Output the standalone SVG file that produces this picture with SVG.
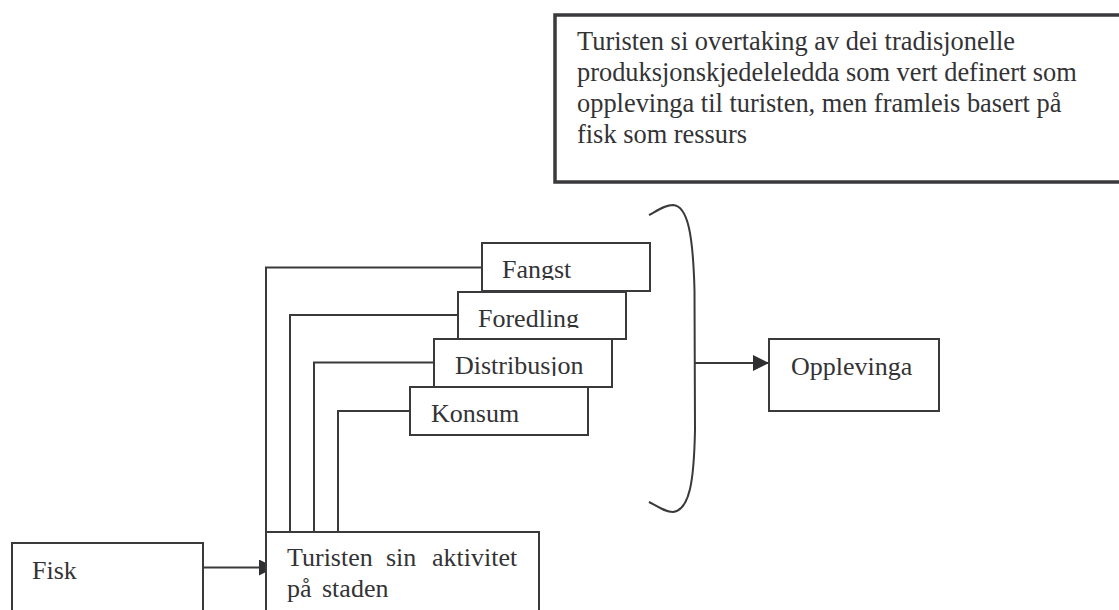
<svg xmlns="http://www.w3.org/2000/svg" width="1119" height="610" viewBox="0 0 1119 610">
<style>
  .box{fill:#fff;stroke:#3a3a3c;stroke-width:2}
  .thick{fill:#fff;stroke:#3a3a3c;stroke-width:3.5}
  .t{font-family:"Liberation Serif","Times New Roman",serif;font-size:26px;fill:#333335}
  .big{font-size:26.4px}
  .ln{fill:none;stroke:#3a3a3c;stroke-width:2}
</style>
<defs>
  <marker id="ah" viewBox="0 0 10 10" refX="10" refY="5" markerWidth="8" markerHeight="8" markerUnits="strokeWidth" orient="auto">
    <path d="M0,0 L10,5 L0,10 Z" fill="#2f2f31"/>
  </marker>
  <clipPath id="cF"><rect x="482" y="243" width="168" height="37"/></clipPath>
  <clipPath id="cFo"><rect x="458" y="292" width="168" height="36"/></clipPath>
  <clipPath id="cD"><rect x="434" y="339" width="178" height="37"/></clipPath>
  <clipPath id="cK"><rect x="410" y="387" width="178" height="37"/></clipPath>
</defs>
<rect width="1119" height="610" fill="#fff"/>

<g id="note">
  <rect class="thick" x="555" y="15" width="580" height="167"/>
  <text class="t big" x="577" y="50">Turisten si overtaking av dei tradisjonelle</text>
  <text class="t big" x="577" y="81">produksjonskjedeleledda som vert definert som</text>
  <text class="t big" x="577" y="112">opplevinga til turisten, men framleis basert på</text>
  <text class="t big" x="577" y="143">fisk som ressurs</text>
</g>

<g id="connectors">
  <polyline class="ln" points="482,267.5 266,267.5 266,532"/>
  <polyline class="ln" points="458,315 290,315 290,532"/>
  <polyline class="ln" points="434,362.5 314,362.5 314,532"/>
  <polyline class="ln" points="410,411 338,411 338,532"/>
  <line class="ln" x1="203" y1="567.5" x2="275" y2="567.5" marker-end="url(#ah)"/>
  <line class="ln" x1="695" y1="363" x2="769" y2="363" marker-end="url(#ah)"/>
  <path class="ln" d="M649,215 C660,209 666,205 673,205 C688,206 693,235 694.5,290 L695,430 C694,480 690,510 673,512 C666,512 660,508 649,502"/>
</g>

<g id="fangst">
  <rect class="box" x="482" y="243" width="168" height="48"/>
  <text class="t" x="502" y="278" clip-path="url(#cF)">Fangst</text>
</g>
<g id="foredling">
  <rect class="box" x="458" y="292" width="168" height="47"/>
  <text class="t" x="478" y="327" clip-path="url(#cFo)">Foredling</text>
</g>
<g id="distribusjon">
  <rect class="box" x="434" y="339" width="178" height="48"/>
  <text class="t" x="455" y="374" clip-path="url(#cD)">Distribusjon</text>
</g>
<g id="konsum">
  <rect class="box" x="410" y="387" width="178" height="48"/>
  <text class="t" x="431" y="422" clip-path="url(#cK)">Konsum</text>
</g>

<g id="opplevinga">
  <rect class="box" x="769" y="339" width="170" height="72"/>
  <text class="t" x="791" y="375">Opplevinga</text>
</g>

<g id="fisk">
  <rect class="box" x="12" y="543" width="191" height="80"/>
  <text class="t" x="32" y="579">Fisk</text>
</g>

<g id="turisten">
  <rect class="box" x="266" y="532" width="273" height="90"/>
  <text class="t" y="566"><tspan x="287">Turisten</tspan><tspan x="386">sin</tspan><tspan x="432">aktivitet</tspan></text>
  <text class="t" y="597"><tspan x="287">på</tspan><tspan x="322">staden</tspan></text>
</g>
</svg>
